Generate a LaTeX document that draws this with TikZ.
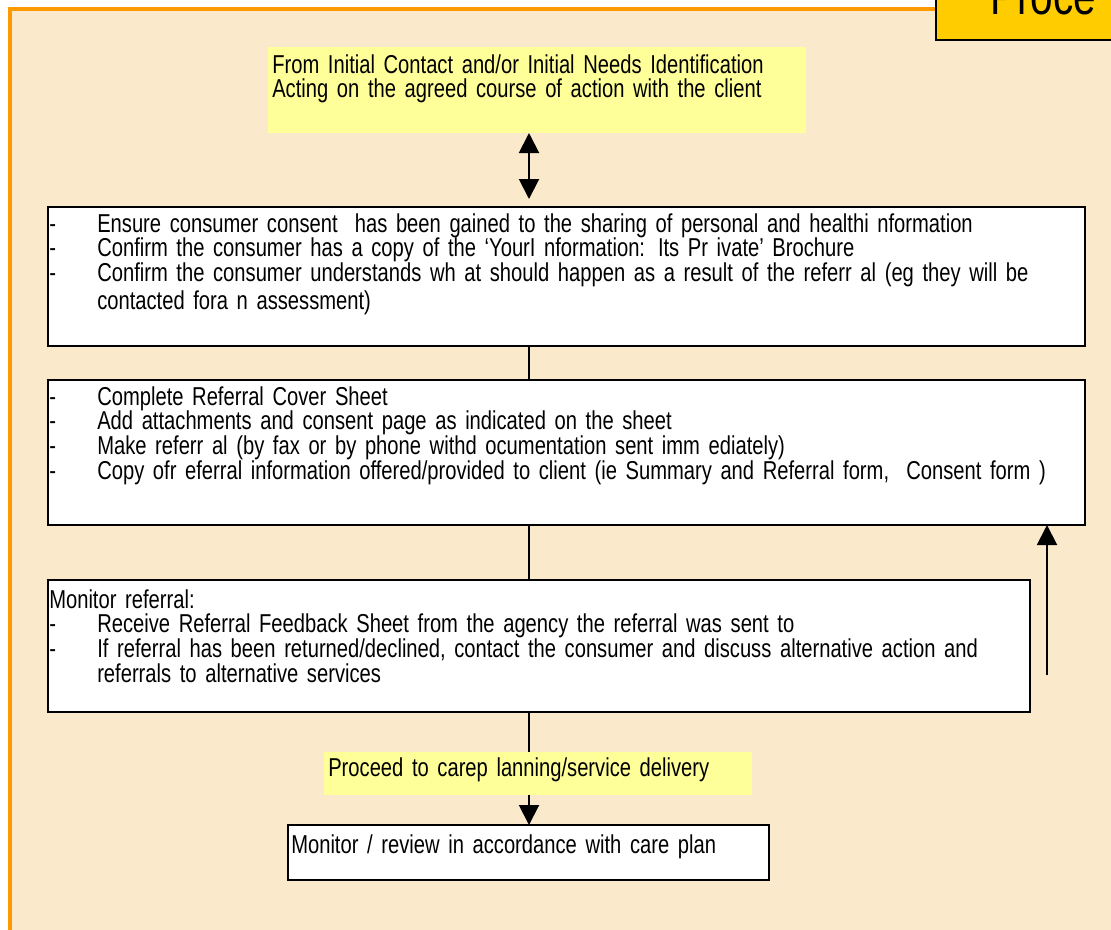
\documentclass[tikz,border=0pt]{standalone}
\usepackage{fontspec}
\setmainfont{Liberation Sans}[FakeStretch=0.78]
\usetikzlibrary{arrows.meta,positioning}
\newlength{\px}\setlength{\px}{0.75pt}
\definecolor{parch}{RGB}{250,233,203}
\definecolor{frameorange}{RGB}{255,153,0}
\definecolor{notey}{RGB}{255,255,153}
\definecolor{titley}{RGB}{255,204,0}
\newcommand{\blt}{\makebox[48\px][l]{-}}
\newcommand{\bltgap}{\hspace*{48\px}}

\begin{document}
\begin{tikzpicture}[x=0.75pt, y=-0.75pt,
    box/.style={draw, line width=1.5pt, fill=white, inner sep=0pt, outer sep=0pt},
    note/.style={fill=notey, inner sep=0pt, outer sep=0pt},
    txt/.style={anchor=base west, inner sep=0pt, text width=1010\px, align=left, font=\fontsize{19.4}{18.6}\selectfont},
    arr/.style={-{Triangle[length=15pt,width=15pt]}, line width=1.5pt},
    dbl/.style={{Triangle[length=15pt,width=15pt]}-{Triangle[length=15pt,width=15pt]}, line width=1.5pt},
    link/.style={line width=1.5pt}
]
\useasboundingbox (0,0) rectangle (1111,929);
\fill[white] (0,0) rectangle (1111,929);
\begin{scope}
\clip (0,0) rectangle (1111,929);
\draw[frameorange, line width=2.4pt, fill=parch] (10,9) rectangle (1140,960);
\node[box, fill=titley, minimum width=264\px, minimum height=100\px] (title) at (1068,-10) {};
\node[anchor=base west, inner sep=0pt, font=\fontsize{39}{40}\selectfont] (titletxt) at (990,14) {Proce};
\end{scope}

\node[note, minimum width=538\px, minimum height=86\px] (start) at (537,90) {};
\node[txt] (starttxt) at (272,73) {From  Initial Contact and/or Initial Needs Identification\\
Acting on the agreed course of action with the client};

\node[box, minimum width=1037\px, minimum height=139\px] (consent) at (566.5,276.5) {};
\node[txt] (consenttxt) at (49,232) {\blt Ensure consumer consent\ \ has been gained to the sharing of personal and healthi nformation\\
\blt Confirm the consumer has a copy of the `YourI nformation: Its Pr ivate' Brochure\\
\blt Confirm the consumer understands wh at should happen as a result of the referr al (eg they will be\\[2pt]
\bltgap contacted fora n assessment)};

\node[box, minimum width=1037\px, minimum height=145\px] (refer) at (566.5,452.5) {};
\node[txt] (refertxt) at (49,405) {\blt Complete Referral Cover Sheet\\
\blt Add attachments and consent page as indicated on the sheet\\
\blt Make referr al (by fax or by phone withd ocumentation sent imm ediately)\\
\blt Copy ofr eferral information offered/provided to client (ie Summary and Referral form,\ \ Consent form )};

\node[box, minimum width=982\px, minimum height=132\px] (monitor) at (539,646) {};
\node[txt] (monitortxt) at (49,608) {Monitor referral:\\
\blt Receive Referral Feedback Sheet from the agency the referral was sent to\\
\blt If referral has been returned/declined, contact the consumer and discuss alternative action and\\
\bltgap referrals to alternative services};

\node[box, minimum width=481\px, minimum height=55\px] (review) at (528.5,852.5) {};
\node[txt] (reviewtxt) at (291,853) {Monitor / review in accordance with care plan};

\coordinate (spine) at (529,0);
\coordinate (back) at (1047,675);

\draw[dbl, shorten >=8\px] (start.south -| spine) -- (consent.north -| spine);
\draw[link] (consent.south -| spine) -- (refer.north -| spine);
\draw[link] (refer.south -| spine) -- (monitor.north -| spine);
\draw[arr] (monitor.south -| spine) -- (review.north -| spine);
\draw[arr] (back) -- (back |- refer.south);

\node[note, minimum width=428\px, minimum height=43\px] (proceed) at (538,773.5) {};
\node[txt] (proceedtxt) at (328,776) {Proceed to carep lanning/service delivery};
\end{tikzpicture}
\end{document}
